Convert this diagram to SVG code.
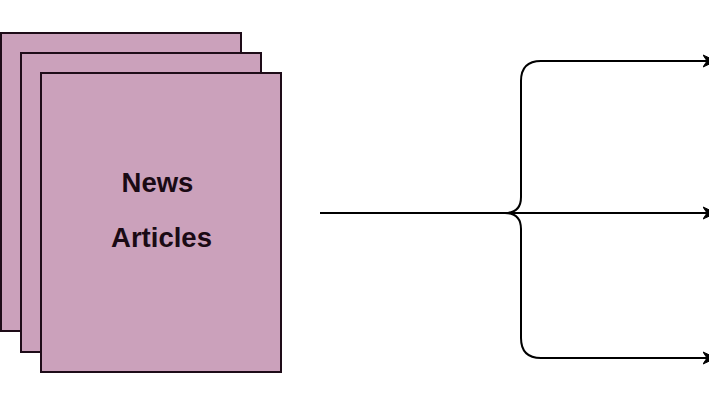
<svg xmlns="http://www.w3.org/2000/svg" width="709" height="400" viewBox="0 0 709 400">
<style>
.page{fill:#cba1bb;stroke:#1e0c18;stroke-width:2}
.lbl{font-family:"Liberation Sans",Arial,sans-serif;font-weight:bold;font-size:27.5px;fill:#1a0a14;text-anchor:middle}
.conn{fill:none;stroke:#000;stroke-width:2}
</style>
<defs>
<marker id="arr" viewBox="0 0 14 14" refX="4" refY="7" markerWidth="14" markerHeight="14" markerUnits="userSpaceOnUse" orient="auto">
<path d="M0,1 L13,7 L0,13 L4,7 Z" fill="#000" stroke="#000" stroke-width="1"/>
</marker>
</defs>
<rect width="709" height="400" fill="#fff"/>
<g id="node-articles">
<rect class="page" x="1" y="33" width="240" height="298"/>
<rect class="page" x="21" y="53" width="240" height="299"/>
<rect class="page" x="41" y="73" width="240" height="299"/>
<text class="lbl" x="157.5" y="192">News</text>
<text class="lbl" x="161.5" y="247">Articles</text>
</g>
<g id="connectors">
<path class="conn" d="M541,61 Q521,61 521,81 L521,197 Q521,213 505,213 Q521,213 521,229 L521,338 Q521,358 541,358"/>
<path class="conn" d="M541,61 L707,61" marker-end="url(#arr)"/>
<path class="conn" d="M320,213 L707,213" marker-end="url(#arr)"/>
<path class="conn" d="M541,358 L707,358" marker-end="url(#arr)"/>
</g>
</svg>
